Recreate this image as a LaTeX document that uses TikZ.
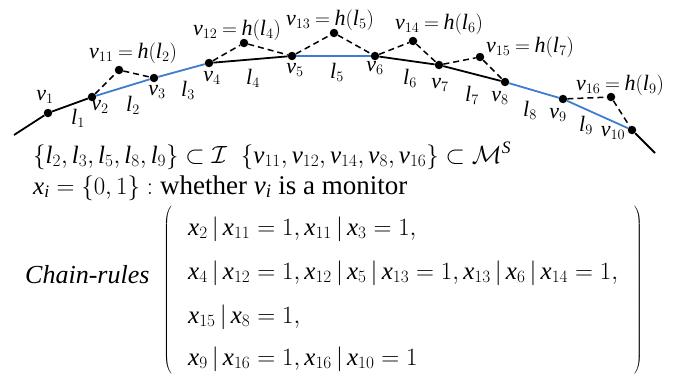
\documentclass[tikz,border=0pt]{standalone}
\usepackage{fontspec}
\setmainfont{LiberationSerif}[Extension=.ttf,UprightFont=*-Regular,ItalicFont=*-Italic,BoldFont=*-Bold,BoldItalicFont=*-BoldItalic]
\DeclareSymbolFont{tletters}{TU}{\rmdefault}{m}{it}
\makeatletter
\count@=`a
\loop
  \mathcode\count@=\numexpr"7000+\symtletters*"100+\count@\relax
  \ifnum\count@<`z \advance\count@ 1 \repeat
\count@=`A
\loop
  \mathcode\count@=\numexpr"7000+\symtletters*"100+\count@\relax
  \ifnum\count@<`Z \advance\count@ 1 \repeat
\makeatother
\newcommand\labfont{\fontsize{22}{26}\selectfont\thickmuskip=4mu\relax}
\newcommand\wordfont{\fontsize{27}{30}\selectfont}
\newcommand\crfont{\fontsize{26}{30}\selectfont}
\definecolor{lineblue}{RGB}{60,125,210}
\begin{document}
\begin{tikzpicture}[x=1pt,y=-1pt,
  dot/.style={circle,fill=black,inner sep=0pt,minimum size=8.5pt},
  seg/.style={line width=1.8pt,black},
  bseg/.style={line width=1.8pt,lineblue},
  hop/.style={line width=1.5pt,dash pattern=on 6pt off 4pt},
  lab/.style={font=\labfont,inner sep=0pt},
  txt/.style={font=\fontsize{25}{28}\selectfont,inner sep=0pt,anchor=base west}]
\useasboundingbox (0,0) rectangle (689,380);
% path vertices
\coordinate (s) at (14,135);
\node[dot] (v1) at (48,113) {};
\node[dot] (v2) at (92,97) {};
\node[dot] (v3) at (154,78) {};
\node[dot] (v4) at (209,63) {};
\node[dot] (v5) at (292,56) {};
\node[dot] (v6) at (375,56) {};
\node[dot] (v7) at (439,65) {};
\node[dot] (v8) at (505,82) {};
\node[dot] (v9) at (563,99) {};
\node[dot] (v10) at (632,130) {};
\coordinate (e) at (655,153);
% monitors
\node[dot] (v11) at (119,70) {};
\node[dot] (v12) at (244,43) {};
\node[dot] (v13) at (334,33) {};
\node[dot] (v14) at (413,41) {};
\node[dot] (v15) at (480,57) {};
\node[dot] (v16) at (611,97) {};
% segments
\draw[seg] (s) -- (v1) -- (v2);
\draw[bseg] (v2) -- (v3) -- (v4);
\draw[seg] (v4) -- (v5);
\draw[bseg] (v5) -- (v6);
\draw[seg] (v6) -- (v7) -- (v8);
\draw[bseg] (v8) -- (v9) -- (v10);
\draw[seg] (v10) -- (e);
% dashed detours
\draw[hop] (v2) -- (v11) -- (v3);
\draw[hop] (v4) -- (v12) -- (v5);
\draw[hop] (v5) -- (v13) -- (v6);
\draw[hop] (v6) -- (v14) -- (v7);
\draw[hop] (v7) -- (v15) -- (v8);
\draw[hop] (v9) -- (v16) -- (v10);
% vertex labels
\node[lab] (lv1) at (45,97) {$v_1$};
\node[lab] (lv2) at (100,107) {$v_2$};
\node[lab] (lv3) at (157,92) {$v_3$};
\node[lab] (lv4) at (212,78) {$v_4$};
\node[lab] (lv5) at (295,70) {$v_5$};
\node[lab] (lv6) at (375,68) {$v_6$};
\node[lab] (lv7) at (440,85) {$v_7$};
\node[lab] (lv8) at (500,98) {$v_8$};
\node[lab] (lv9) at (558,115) {$v_9$};
\node[lab] (lv10) at (613,133) {$v_{10}$};
% link labels
\node[lab] (ll1) at (78,118) {$l_1$};
\node[lab] (ll2) at (133,105) {$l_2$};
\node[lab] (ll3) at (188,90) {$l_3$};
\node[lab] (ll4) at (253,78) {$l_4$};
\node[lab] (ll5) at (337,72) {$l_5$};
\node[lab] (ll6) at (410,78) {$l_6$};
\node[lab] (ll7) at (472,95) {$l_7$};
\node[lab] (ll8) at (530,110) {$l_8$};
\node[lab] (ll9) at (586,125) {$l_9$};
% monitor labels
\node[lab] (lm11) at (133,53) {$v_{11}=h(l_2)$};
\node[lab] (lm12) at (237,30) {$v_{12}=h(l_4)$};
\node[lab] (lm13) at (330,20) {$v_{13}=h(l_5)$};
\node[lab] (lm14) at (439,24) {$v_{14}=h(l_6)$};
\node[lab] (lm15) at (530,47) {$v_{15}=h(l_7)$};
\node[lab] (lm16) at (620,85) {$v_{16}=h(l_9)$};
% text lines
\node[txt] (t1) at (33,163) {$\{l_2,l_3,l_5,l_8,l_9\}\subset\mathcal{I}\;\;\{v_{11},v_{12},v_{14},v_8,v_{16}\}\subset\mathcal{M}^S$};
\node[txt] (t2) at (33,194) {$x_i=\{0,1\}:$\hspace{7pt}{\wordfont whether $v_i$ is a monitor}};
\node[txt] (cr) at (25,283) {\crfont\itshape Chain-rules};
\node[txt,anchor=center] (lp) at (168,291) {$\left(\vrule height 79pt depth 79pt width 0pt\right.$};
\node[txt,anchor=center] (rp) at (638,291) {$\left.\vrule height 79pt depth 79pt width 0pt\right)$};
\node[txt] (r1) at (188,235) {$x_2\,|\,x_{11}=1,x_{11}\,|\,x_3=1,$};
\node[txt] (r2) at (188,279) {$x_4\,|\,x_{12}=1,x_{12}\,|\,x_5\,|\,x_{13}=1,x_{13}\,|\,x_6\,|\,x_{14}=1,$};
\node[txt] (r3) at (188,323) {$x_{15}\,|\,x_8=1,$};
\node[txt] (r4) at (188,365) {$x_9\,|\,x_{16}=1,x_{16}\,|\,x_{10}=1$};
\end{tikzpicture}
\end{document}
